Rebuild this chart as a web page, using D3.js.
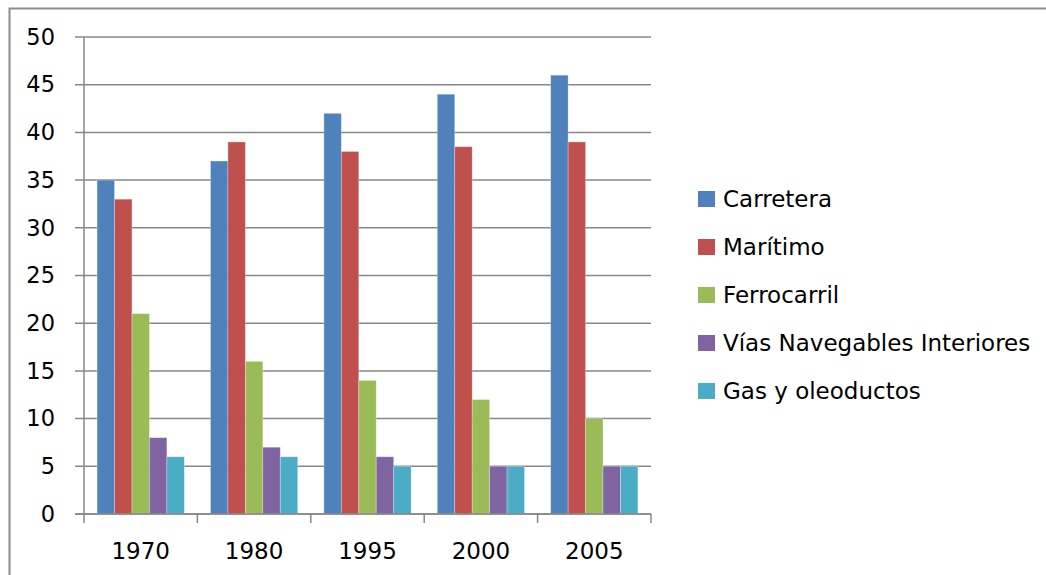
<!DOCTYPE html>
<html><head><meta charset="utf-8">
<script src="https://cdn.jsdelivr.net/npm/d3@7"></script>
<style>body{margin:0;background:#fff}svg{display:block}text{font-family:"DejaVu Sans",sans-serif;fill:#000}</style>
</head><body><svg id="c" width="1046" height="575"></svg>
<script>
const categories = ["1970","1980","1995","2000","2005"];
const seriesNames = ["Carretera","Marítimo","Ferrocarril","Vías Navegables Interiores","Gas y oleoductos"];
const carretera = [35,37,42,44,46];
const maritimo = [33,39,38,38.5,39];
const ferrocarril = [21,16,14,12,10];
const vias = [8,7,6,5,5];
const gas = [6,6,5,5,5];
const yTicks = [0,5,10,15,20,25,30,35,40,45,50];
const colors = ["#4F81BD","#C0504D","#9BBB59","#8064A2","#4BACC6"];
const seriesValues = [carretera, maritimo, ferrocarril, vias, gas];

const svg = d3.select("#c");
// chart border
svg.append("path").attr("d","M9.5,1100V8.5H1100").attr("fill","none").attr("stroke","#8c8c8c").attr("stroke-width",2);

const pL=84, pR=651, pT=37, pB=514;
const x = d3.scaleBand().domain(categories).range([pL,pR]).paddingInner(0).paddingOuter(0);
const y = d3.scaleLinear().domain([0,50]).range([pB,pT]);
// gap width 150% -> bar width = band/6.5
const bw = x.bandwidth()/6.5;
const gridColor="#878787";

// gridlines with left tick marks
const gy = svg.append("g");
yTicks.forEach(t=>{
  gy.append("line").attr("x1",pL-9).attr("x2",pR).attr("y1",y(t)).attr("y2",y(t)).attr("stroke",gridColor).attr("stroke-width",1.5);
});
const yAxis = svg.append("g").attr("transform",`translate(${pL-10},0)`)
  .call(d3.axisLeft(y).tickValues(yTicks).tickSize(0).tickPadding(19));
yAxis.select(".domain").remove();
yAxis.selectAll("text").attr("font-size",22.5).attr("font-family","DejaVu Sans");

// bars
seriesValues.forEach((vals,si)=>{
  svg.append("g").selectAll("rect").data(vals).join("rect")
    .attr("x",(d,i)=>x(categories[i])+bw*0.75+si*bw)
    .attr("width",bw)
    .attr("y",d=>y(d))
    .attr("height",d=>y(0)-y(d))
    .attr("fill",colors[si])
    .attr("stroke","rgba(255,255,255,0.35)").attr("stroke-width",0.8);
});

// axes lines
svg.append("line").attr("x1",pL).attr("x2",pL).attr("y1",pT).attr("y2",pB).attr("stroke",gridColor).attr("stroke-width",1.5);
const xAxis = svg.append("g").attr("transform",`translate(0,${pB})`)
  .call(d3.axisBottom(x).tickSize(0).tickPadding(29));
xAxis.select(".domain").attr("stroke",gridColor).attr("stroke-width",1.5).attr("d",`M${pL-9},0H${pR}`);
xAxis.selectAll("text").attr("font-size",23).attr("font-family","DejaVu Sans");
const edges = categories.map(c=>x(c)).concat([pR]);
edges.forEach(e=>{
  svg.append("line").attr("x1",e).attr("x2",e).attr("y1",pB).attr("y2",pB+9).attr("stroke",gridColor).attr("stroke-width",1.5);
});

// legend
const lg = svg.append("g").attr("transform","translate(698,199)");
seriesNames.forEach((n,i)=>{
  const g = lg.append("g").attr("transform",`translate(0,${i*48})`);
  g.append("rect").attr("x",0).attr("y",-8).attr("width",17).attr("height",16).attr("fill",colors[i]);
  g.append("text").attr("x",25).attr("y",0).attr("dy","0.36em").attr("font-size",23).text(n);
});
</script></body></html>
